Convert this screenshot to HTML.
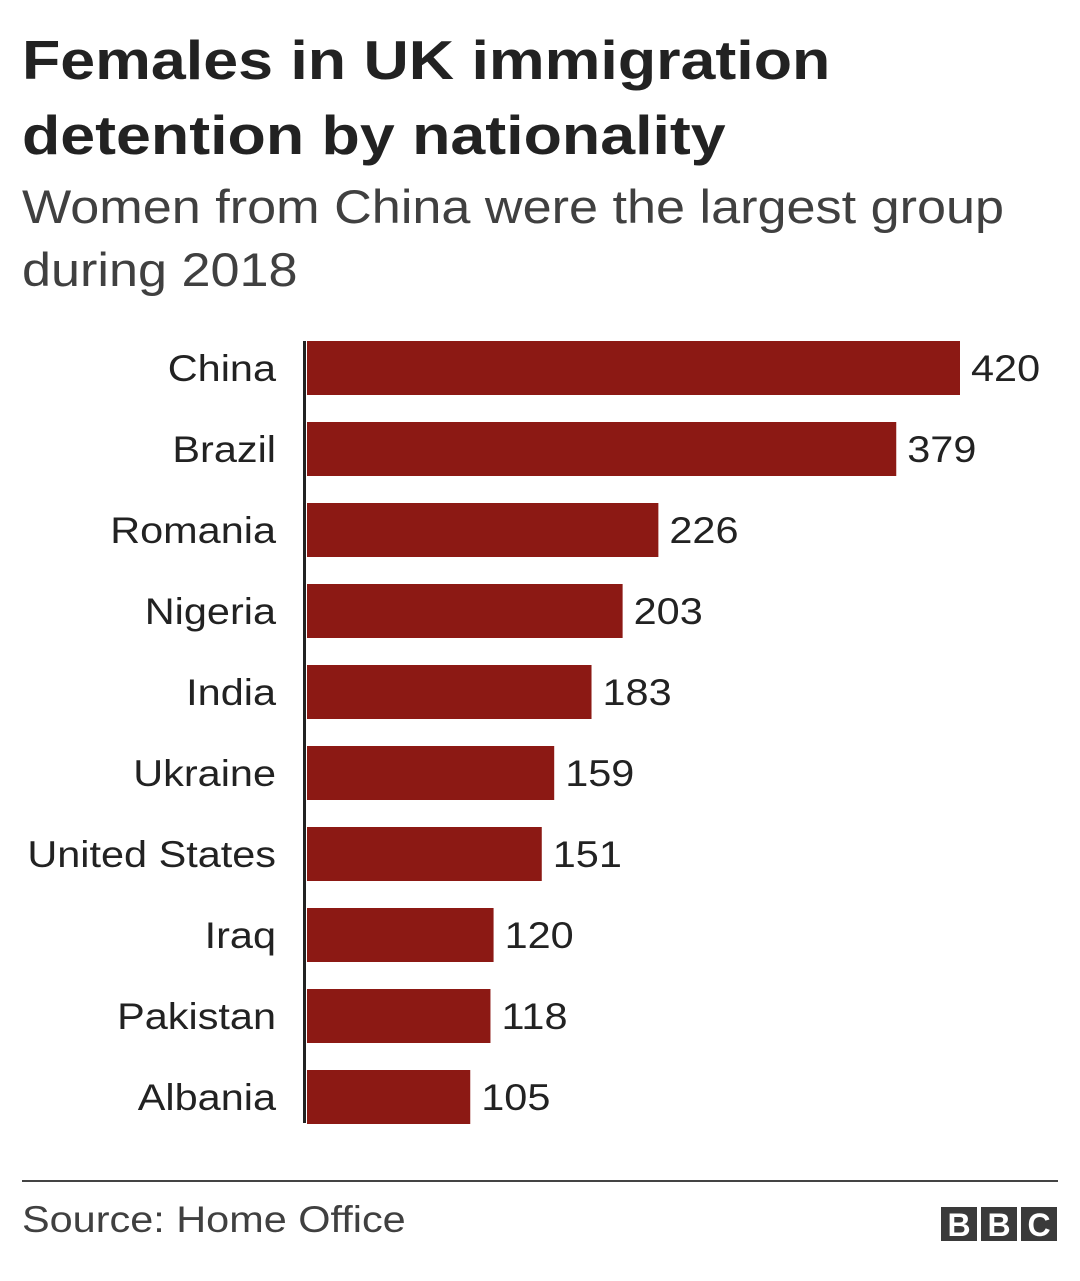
<!DOCTYPE html>
<html><head><meta charset="utf-8"><style>
body{margin:0;background:#fff;width:1080px;height:1281px;overflow:hidden;font-family:"Liberation Sans",Arial,sans-serif;}
.t{position:absolute;left:22px;margin:0;color:#222;font-weight:bold;font-size:55px;line-height:75px;top:23px;transform:scaleX(1.14);transform-origin:0 0;white-space:nowrap;}
.s{position:absolute;left:22px;color:#404040;font-size:47px;line-height:63px;top:175px;transform:scaleX(1.11);transform-origin:0 0;white-space:nowrap;}
</style></head><body>
<div class="t">Females in UK immigration<br>detention by nationality</div>
<div class="s">Women from China were the largest group<br>during 2018</div>
<svg id="c" width="1080" height="1281" style="position:absolute;left:0;top:0"></svg>
<script>
const categories=["China","Brazil","Romania","Nigeria","India","Ukraine","United States","Iraq","Pakistan","Albania"];
const values=[420,379,226,203,183,159,151,120,118,105];
const svg=document.getElementById('c');const NS='http://www.w3.org/2000/svg';
const x0=307,scale=(960-307)/420,y0=341,pitch=81,bh=54,SX=1.12;
const xs=v=>x0+v*scale, ys=i=>y0+i*pitch;
function mk(t,a){const e=document.createElementNS(NS,t);for(const k in a)e.setAttribute(k,a[k]);svg.appendChild(e);return e;}
function txt(x,y,s,anchor,size,fill){const e=mk('text',{x:0,y:0,'text-anchor':anchor,'font-size':size,fill:fill,'font-family':'Liberation Sans, Arial, sans-serif',transform:'translate('+x+','+y+') scale('+SX+',1)'});e.textContent=s;return e;}
categories.forEach((c,i)=>{
 const r=mk('rect',{x:x0,y:ys(i),width:xs(values[i])-x0,height:bh,fill:'#8c1914'});
 
 
 const l=txt(276,ys(i)+bh/2+13,c,'end',37,'#222');
 
 
 const v=txt(xs(values[i])+11,ys(i)+bh/2+13,String(values[i]),'start',37,'#222');
 
 
});
const ax=mk('line',{x1:304.5,x2:304.5,y1:341,y2:1123,stroke:'#222','stroke-width':3});


const fl=mk('line',{x1:22,x2:1058,y1:1181,y2:1181,stroke:'#444','stroke-width':2});


const src=txt(22,1232,'Source: Home Office','start',37,'#404040');


['B','B','C'].forEach((ch,i)=>{
 const bx=941+i*40;
 const q=mk('rect',{x:bx,y:1207,width:36,height:34,fill:'#3a3a3a'});
 
 
 const tt=mk('text',{x:bx+18,y:1236,'text-anchor':'middle','font-size':32,'font-weight':'bold',fill:'#fff','font-family':'Liberation Sans, Arial, sans-serif'});
 tt.textContent=ch;
 
 
});
</script>
</body></html>
